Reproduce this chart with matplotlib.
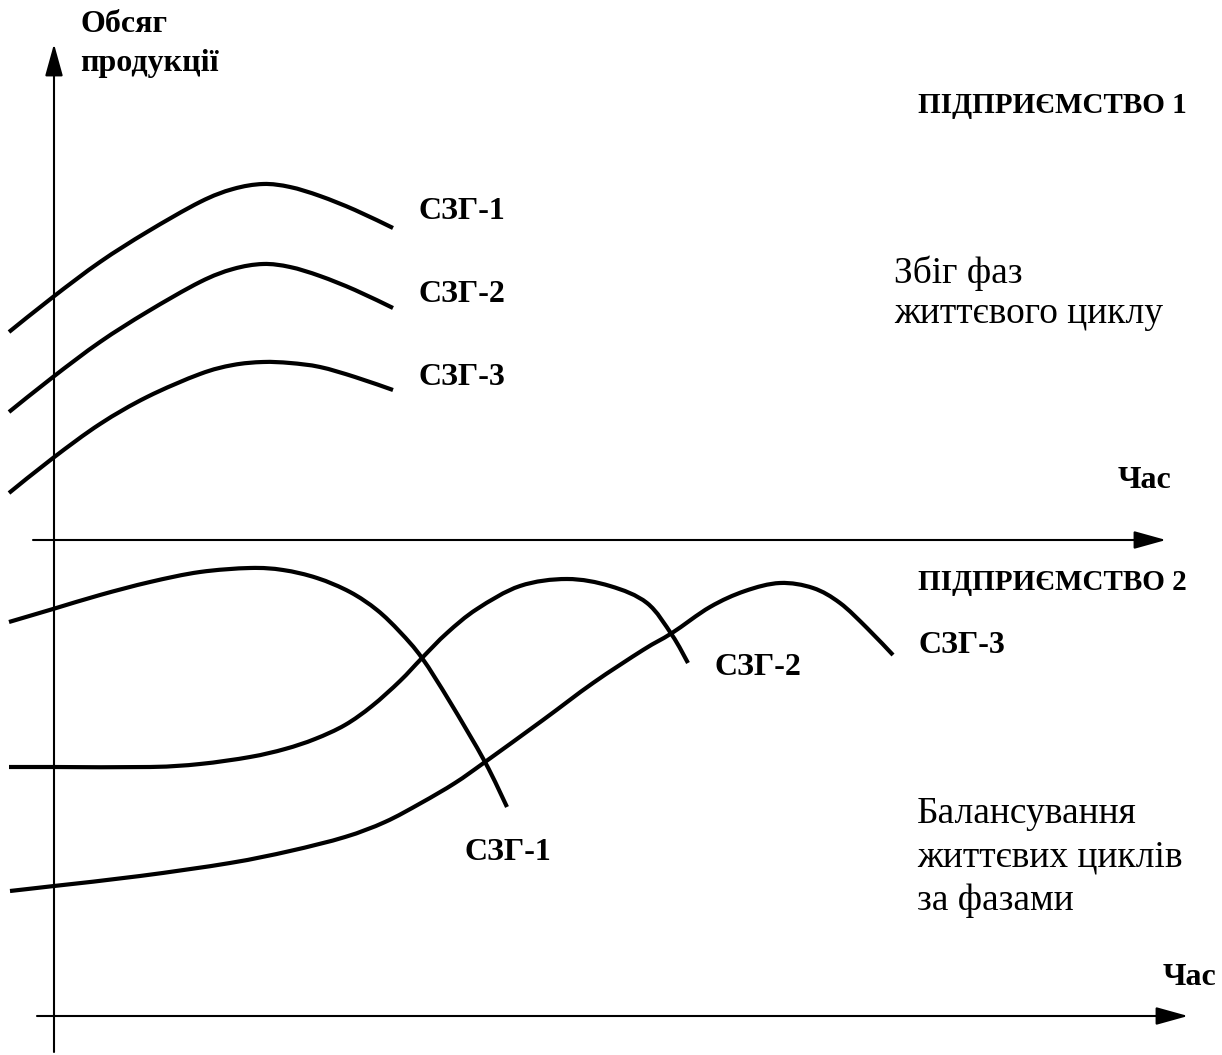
import matplotlib
matplotlib.use("Agg")
import matplotlib.pyplot as plt
from matplotlib.path import Path
from matplotlib.patches import PathPatch

# ---- Data (in picture units: x = time, y = downward) ----
# Enterprise 1: coincident life-cycle phases
top1_x = [9, 53, 100, 147, 200, 233, 263, 290, 320, 355, 393]
top1_y = [332, 297, 262, 232, 202, 189, 184, 187, 196, 210, 228]
top2_x = [9, 53, 100, 147, 200, 233, 263, 290, 320, 355, 393]
top2_y = [412, 377, 342, 312, 282, 269, 264, 267, 276, 290, 308]
top3_x = [9, 53, 100, 147, 200, 233, 263, 290, 320, 355, 393]
top3_y = [493, 458, 424, 397, 374, 365, 362, 363, 367, 377, 390]

# Enterprise 2: balanced life cycles
bot1_x = [9, 53, 100, 150, 200, 250, 283, 317, 350, 377, 400, 422, 450, 485, 507]
bot1_y = [622, 609, 595, 582, 572, 568, 570, 578, 592, 610, 632, 658, 702, 762, 807]
bot2_x = [9, 53, 150, 200, 250, 285, 315, 345, 372, 400, 422, 447, 477, 520, 567,
          610, 647, 672, 688]
bot2_y = [767, 767, 767, 764, 757, 749, 739, 725, 706, 681, 658, 633, 609, 586, 579,
          586, 603, 635, 663]
bot3_x = [10, 54, 140, 230, 290, 345, 385, 421, 455, 485, 543, 593, 643, 672, 710,
          745, 780, 813, 840, 867, 893]
bot3_y = [891, 886, 876, 863, 851, 837, 822, 803, 783, 762, 720, 683, 650, 633, 607,
          591, 583, 588, 603, 628, 655]

series_labels = ["СЗГ-1", "СЗГ-2", "СЗГ-3"]
y_axis_label = ["Обсяг", "продукції"]
x_axis_label = "Час"
enterprise1 = "ПІДПРИЄМСТВО 1"
enterprise2 = "ПІДПРИЄМСТВО 2"
note1 = ["Збіг фаз", "життєвого циклу"]
note2 = ["Балансування", "життєвих циклів", "за фазами"]

W, H = 1222, 1055
fig = plt.figure(figsize=(W / 100, H / 100), dpi=100)
ax = fig.add_axes([0, 0, 1, 1])
ax.set_xlim(0, W)
ax.set_ylim(H, 0)
ax.axis("off")

serif = ["Liberation Serif", "DejaVu Serif"]
lw_curve = 3.0
lw_axis = 1.5


def smooth_path(xs, ys):
    """Smooth Bezier path (Catmull-Rom style) through the given points."""
    pts = list(zip(xs, ys))
    n = len(pts)
    verts = [pts[0]]
    codes = [Path.MOVETO]
    for i in range(n - 1):
        p0 = pts[i - 1] if i > 0 else pts[i]
        p1 = pts[i]
        p2 = pts[i + 1]
        p3 = pts[i + 2] if i + 2 < n else pts[i + 1]
        c1 = (p1[0] + (p2[0] - p0[0]) / 6, p1[1] + (p2[1] - p0[1]) / 6)
        c2 = (p2[0] - (p3[0] - p1[0]) / 6, p2[1] - (p3[1] - p1[1]) / 6)
        verts += [c1, c2, p2]
        codes += [Path.CURVE4] * 3
    return Path(verts, codes)


# axes with arrows
arrow_kw = dict(arrowstyle="-|>,head_length=0.9,head_width=0.25", color="black",
                lw=lw_axis, shrinkA=0, shrinkB=0, mutation_scale=22)
ax.annotate("", xy=(54, 44), xytext=(54, 1052), arrowprops=arrow_kw)
ax.annotate("", xy=(1166, 540), xytext=(33, 540), arrowprops=arrow_kw)
ax.annotate("", xy=(1188, 1016), xytext=(37, 1016), arrowprops=arrow_kw)

# curves
for xs, ys in [(top1_x, top1_y), (top2_x, top2_y), (top3_x, top3_y),
               (bot1_x, bot1_y), (bot2_x, bot2_y), (bot3_x, bot3_y)]:
    ax.add_patch(PathPatch(smooth_path(xs, ys), fill=False, edgecolor="black",
                           lw=lw_curve, capstyle="butt", joinstyle="round"))

bold = dict(family=serif, fontweight="bold", fontsize=23, color="black",
            ha="left", va="baseline")
reg = dict(family=serif, fontsize=27, color="black", ha="left", va="baseline")

# top labels
ax.text(418, 219, series_labels[0], **bold)
ax.text(418, 302, series_labels[1], **bold)
ax.text(418, 385, series_labels[2], **bold)
# bottom labels
ax.text(465, 860, series_labels[0], **bold)
ax.text(714, 675, series_labels[1], **bold)
ax.text(918, 653, series_labels[2], **bold)

ax.text(80, 32, y_axis_label[0], **bold)
ax.text(80, 71, y_axis_label[1], **bold)
ax.text(1118, 488, x_axis_label, **bold)
ax.text(1163, 985, x_axis_label, **bold)

ent = dict(bold, fontsize=21)
ax.text(918, 113, enterprise1, **ent)
ax.text(918, 590, enterprise2, **ent)

ax.text(894, 283, note1[0], **reg)
ax.text(894, 323, note1[1], **reg)
ax.text(917, 823, note2[0], **reg)
ax.text(917, 867, note2[1], **reg)
ax.text(917, 910, note2[2], **reg)

fig.savefig("out.png", dpi=100)
